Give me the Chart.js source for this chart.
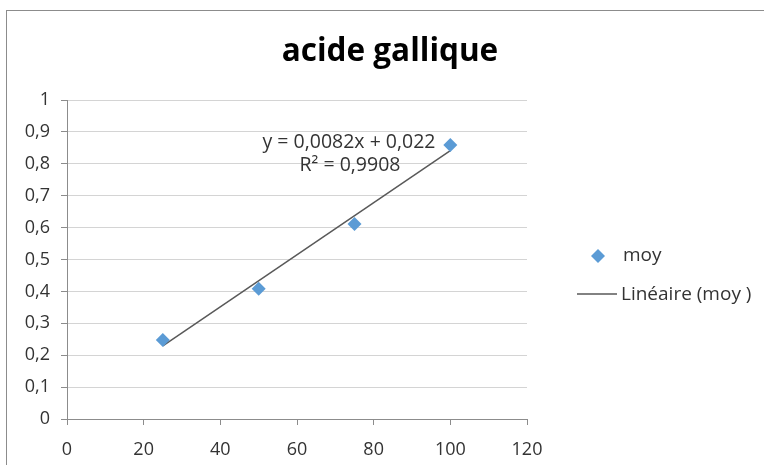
<!DOCTYPE html>
<html>
<head>
<meta charset="utf-8">
<script src="https://cdn.jsdelivr.net/npm/chart.js@4"></script>
<style>
    body { margin: 0; background: #fff; }
    #wrap { position: relative; width: 764px; height: 465px; }
    #frame { position: absolute; left: 6px; top: 10px; right: 0; bottom: 0; border-top: 1px solid #8c8c8c; border-left: 1px solid #8c8c8c; }
    #plot { position: absolute; left: 0; top: 0; }
</style>
</head>
<body>
<div id="wrap">
    <div id="frame"></div>
    <canvas id="plot" width="764" height="465"></canvas>
</div>
<script>
// values
const concentrations = [25, 50, 75, 100]
const moy = [0.248, 0.408, 0.611, 0.859]
const trendX = [25, 100]
const trendY = [0.229, 0.841]
const titleText = 'acide gallique'
const equationLines = ['y = 0,0082x + 0,022', 'R² = 0,9908']
const legendLabels = ['moy', 'Linéaire (moy )']

const FONT = '"Open Sans", "Liberation Sans", sans-serif'
const TEXT = '#333333'
const BLUE = '#5b9bd5'
const TREND = '#595959'

// Function to turn 0.5 into "0,5"
function frenchNumber(v) {
    return (Math.round(v * 10) / 10).toString().replace('.', ',')
}

const extras = {
    id: 'extras',
    afterDraw(chart) {
        const ctx = chart.ctx
        ctx.save()
        // title
        ctx.fillStyle = '#000'
        ctx.font = 'bold 31.5px ' + FONT
        ctx.textAlign = 'center'
        ctx.textBaseline = 'middle'
        ctx.fillText(titleText, 390, 52)

        // trendline equation
        ctx.fillStyle = TEXT
        ctx.font = '19.5px ' + FONT
        ctx.fillText(equationLines[0], 349, 142)
        ctx.fillText(equationLines[1], 350, 165)

        // legend
        ctx.font = '19px ' + FONT
        ctx.textAlign = 'left'
        ctx.fillStyle = BLUE
        ctx.beginPath()
        ctx.moveTo(598, 249)
        ctx.lineTo(605, 256)
        ctx.lineTo(598, 263)
        ctx.lineTo(591, 256)
        ctx.closePath()
        ctx.fill()
        ctx.fillStyle = TEXT
        ctx.fillText(legendLabels[0], 623, 256)

        ctx.strokeStyle = TREND
        ctx.lineWidth = 1.5
        ctx.beginPath()
        ctx.moveTo(577, 294)
        ctx.lineTo(617, 294)
        ctx.stroke()
        ctx.fillText(legendLabels[1], 621, 295)
        ctx.restore()
    }
}

const ctx = document.getElementById('plot').getContext('2d')
const chart = new Chart(ctx, {
    type: 'scatter',
    data: {
        datasets: [
            {
                label: legendLabels[0],
                data: concentrations.map((x, i) => ({ x: x, y: moy[i] })),
                pointStyle: 'rectRot',
                pointRadius: 7,
                pointBackgroundColor: BLUE,
                pointBorderColor: BLUE,
                pointBorderWidth: 0,
                showLine: false,
            },
            {
                label: legendLabels[1],
                type: 'line',
                data: trendX.map((x, i) => ({ x: x, y: trendY[i] })),
                borderColor: TREND,
                borderWidth: 1.5,
                pointRadius: 0,
                fill: false,
            },
        ],
    },
    options: {
        responsive: false,
        animation: false,
        layout: { padding: { top: 100, right: 237, left: 0, bottom: 0 } },
        plugins: {
            legend: { display: false },
            title: { display: false },
            tooltip: { enabled: false },
        },
        scales: {
            x: {
                type: 'linear',
                min: 0,
                max: 120,
                ticks: { stepSize: 20, color: TEXT, font: { family: FONT, size: 18 }, padding: 14 },
                grid: { drawOnChartArea: false, drawTicks: true, tickLength: 6, tickColor: '#8c8c8c' },
                border: { color: '#8c8c8c', width: 1 },
                afterFit: function (scale) { scale.height = 46 },
            },
            y: {
                min: 0,
                max: 1,
                ticks: {
                    stepSize: 0.1,
                    color: TEXT,
                    font: { family: FONT, size: 18 },
                    padding: 11,
                    callback: function (v) { return frenchNumber(v) },
                },
                grid: { color: '#d4d4d4', tickLength: 6, tickColor: '#8c8c8c' },
                border: { color: '#8c8c8c', width: 1 },
                afterFit: function (scale) { scale.width = 67 },
            },
        },
    },
    plugins: [extras],
})
</script>
</body>
</html>
